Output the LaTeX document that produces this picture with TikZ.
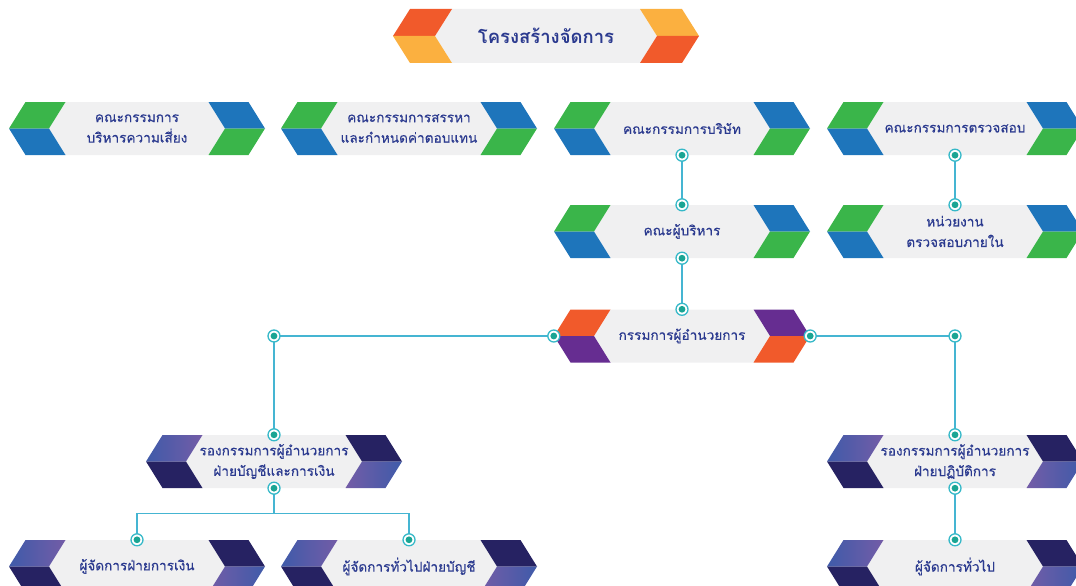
\documentclass[tikz,border=0pt]{standalone}
\usepackage{fontspec}
\newfontfamily\thai[Script=Thai]{Loma}
\newfontfamily\thaimed[Script=Thai,FakeBold=0.35]{Loma}
\usetikzlibrary{calc}
\definecolor{cgreen}{HTML}{3AB54A}
\definecolor{cblue}{HTML}{1E75BB}
\definecolor{corange}{HTML}{F15A2B}
\definecolor{cyellow}{HTML}{FBB040}
\definecolor{cpurple}{HTML}{662D91}
\definecolor{vpblue}{HTML}{3F5BA9}
\definecolor{vppurple}{HTML}{735CA7}
\definecolor{cnavy}{HTML}{262262}
\definecolor{boxgray}{HTML}{F0F0F1}
\definecolor{ctext}{HTML}{2B3A8F}
\definecolor{cline}{HTML}{45B5D2}
\definecolor{cring}{HTML}{35B8C8}
\definecolor{cdotc}{HTML}{1AA594}
\tikzset{
  boxtext/.style={rectangle, inner sep=0pt, text=ctext, align=center,
    font=\thaimed\fontsize{13.6}{20.5}\selectfont},
  titletext/.style={rectangle, inner sep=0pt, text=ctext, align=center,
    font=\thai\bfseries\fontsize{18.5}{24}\selectfont},
  conn/.style={draw=cline, line width=1.1pt},
  gr/.style={fill=cgreen}, bl/.style={fill=cblue},
  og/.style={fill=corange}, yl/.style={fill=cyellow}, pp/.style={fill=cpurple},
  nv/.style={fill=cnavy},
  gbp/.style={left color=vpblue, right color=vppurple},
  gpb/.style={left color=vppurple, right color=vpblue},
}
\def\bw{128}\def\bh{26.5}\def\bt{40}\def\bs{16.5}
\newcommand\chevbox[9]{%
  \begin{scope}[shift={(#2,#3)}]
    \fill[boxgray] (-\bw+\bs+\bt,-\bh) -- (\bw-\bs-\bt,-\bh) -- (\bw-\bt,0) -- (\bw-\bs-\bt,\bh) -- (-\bw+\bs+\bt,\bh) -- (-\bw+\bt,0) -- cycle;
    \path[#5] (-\bw+\bs,-\bh) -- (-\bw+\bs+\bt,-\bh) -- (-\bw+\bt,0) -- (-\bw,0) -- cycle;
    \path[#6] (-\bw,0) -- (-\bw+\bt,0) -- (-\bw+\bs+\bt,\bh) -- (-\bw+\bs,\bh) -- cycle;
    \path[#7] (\bw-\bs-\bt,-\bh) -- (\bw-\bs,-\bh) -- (\bw,0) -- (\bw-\bt,0) -- cycle;
    \path[#8] (\bw-\bt,0) -- (\bw,0) -- (\bw-\bs,\bh) -- (\bw-\bs-\bt,\bh) -- cycle;
  \end{scope}
  \node[#9, minimum width={2*\bw*1pt}, minimum height={2*\bh*1pt}] (#1) at (#2,#3) {#4};
}
\newcommand\jdot[1]{%
  \filldraw[fill=white, draw=cring, line width=1.3pt] (#1) circle (6pt);
  \fill[cdotc] (#1) circle (3.4pt);
}
\begin{document}
\begin{tikzpicture}[x=1pt, y=-1pt]
\useasboundingbox (0,0) rectangle (1076,586);
\clip (0,0) rectangle (1076,586);
% title
\begingroup
\def\bw{153}\def\bh{27}\def\bt{42}\def\bs{17}
\chevbox{title}{546}{36}{โครงสร้างจัดการ}{og}{yl}{yl}{og}{titletext}
\endgroup
% row 1
\chevbox{risk}{137}{128.5}{คณะกรรมการ\\บริหารความเสี่ยง}{gr}{bl}{bl}{gr}{boxtext}
\chevbox{nom}{409}{128.5}{คณะกรรมการสรรหา\\และกำหนดค่าตอบแทน}{gr}{bl}{bl}{gr}{boxtext}
\chevbox{board}{682}{128.5}{คณะกรรมการบริษัท}{gr}{bl}{bl}{gr}{boxtext}
\chevbox{audit}{955}{128.5}{คณะกรรมการตรวจสอบ}{gr}{bl}{bl}{gr}{boxtext}
% row 2
\chevbox{exec}{682}{231.5}{คณะผู้บริหาร}{gr}{bl}{bl}{gr}{boxtext}
\chevbox{intaud}{955}{231.5}{หน่วยงาน\\ตรวจสอบภายใน}{gr}{bl}{bl}{gr}{boxtext}
% row 3
\chevbox{md}{682}{336}{กรรมการผู้อำนวยการ}{og}{pp}{pp}{og}{boxtext}
% row 4
\chevbox{vpfin}{274}{461.5}{รองกรรมการผู้อำนวยการ\\ฝ่ายบัญชีและการเงิน}{gbp}{nv}{nv}{gpb}{boxtext}
\chevbox{vpops}{955}{461.5}{รองกรรมการผู้อำนวยการ\\ฝ่ายปฏิบัติการ}{gbp}{nv}{nv}{gpb}{boxtext}
% row 5
\chevbox{mfin}{137}{566.5}{ผู้จัดการฝ่ายการเงิน}{gbp}{nv}{nv}{gpb}{boxtext}
\chevbox{macc}{409}{566.5}{ผู้จัดการทั่วไปฝ่ายบัญชี}{gbp}{nv}{nv}{gpb}{boxtext}
\chevbox{mgen}{955}{566.5}{ผู้จัดการทั่วไป}{gbp}{nv}{nv}{gpb}{boxtext}
% connectors
\coordinate (cornL) at (vpfin.north |- md.west);
\coordinate (cornR) at (vpops.north |- md.east);
\coordinate (split) at ($(vpfin.south)+(0,25)$);
\draw[conn] (board.south) -- (exec.north);
\draw[conn] (exec.south) -- (md.north);
\draw[conn] (audit.south) -- (intaud.north);
\draw[conn] (md.west) -- (cornL) -- (vpfin.north);
\draw[conn] (md.east) -- (cornR) -- (vpops.north);
\draw[conn] (vpfin.south) -- (split);
\draw[conn] (mfin.north) |- (split) -| (macc.north);
\draw[conn] (vpops.south) -- (mgen.north);
% dots
\jdot{board.south}\jdot{exec.north}\jdot{exec.south}\jdot{md.north}
\jdot{audit.south}\jdot{intaud.north}
\jdot{md.west}\jdot{md.east}\jdot{cornL}\jdot{cornR}
\jdot{vpfin.north}\jdot{vpfin.south}\jdot{vpops.north}\jdot{vpops.south}
\jdot{mfin.north}\jdot{macc.north}\jdot{mgen.north}
\end{tikzpicture}
\end{document}
